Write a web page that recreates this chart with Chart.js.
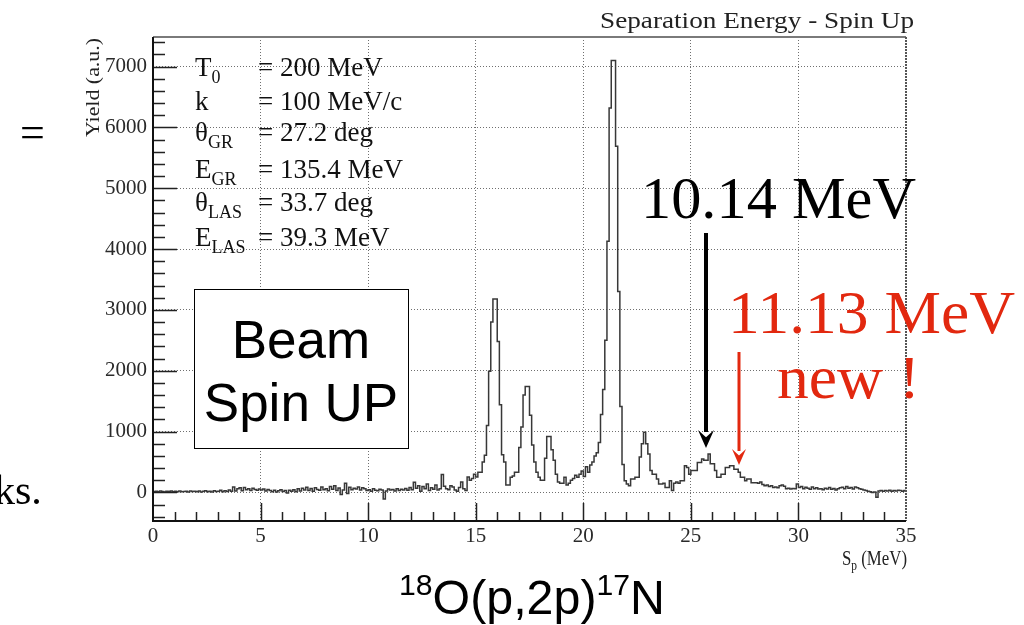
<!DOCTYPE html>
<html>
<head>
<meta charset="utf-8">
<script src="https://cdn.jsdelivr.net/npm/chart.js@4.4.1/dist/chart.umd.min.js"></script>
<style>
  html, body { margin: 0; padding: 0; background: #fff; }
</style>
</head>
<body>
<canvas id="chart" width="1024" height="625"></canvas>
<script>
// Sp histogram, 0.1 MeV bins from 0 to 35 MeV
const binWidth = 0.1;
const yieldCounts = [
  12, 18, 10, 22, 15, 8, 20, 14, 25, 10,
  18, 12, 24, 9, 16, 20, 6, 22, 14, 19,
  11, 25, 8, 17, 28, 12, 20, 5, 26, 15,
  20, 34, 10, 26, 14, 38, 18, 90, 22, 60,
  75, 28, 80, 45, 62, 30, 70, 48, 35, 55,
  40, 58, 22, 46, 30, 12, 35, 8, 28, 42,
  15, 30, -10, 36, 18, 45, 10, 60, 25, 70,
  40, 85, 30, 65, 20, 78, 48, 35, 90, 42,
  60, 28, 95, 50, 110, 30, 72, -35, 40, 150,
  -20, 85, 45, 70, 55, 90, 38, 75, 60, 30,
  45, 20, 62, 35, 28, 50, 40, -110, 25, 55,
  38, 48, 22, 60, 30, 52, 40, 65, 35, 80,
  45, 165, 70, 110, 20, 95, 60, 140, 30, 75,
  50, 120, 40, 60, 295, 100, 60, 45, 110, 90,
  40, 20, 80, 170, 60, 30, 255, 200, 230, 300,
  255, 330, 330, 500, 610, 1100, 1990, 2800, 3180, 3180,
  2480, 1440, 620, 500, 120, 120, 250, 270, 330, 330,
  740, 1075, 1600, 1740, 1740, 1270, 780, 500, 330, 250,
  200, 200, 560, 920, 920, 700, 530, 300, 170, 150,
  150, 250, 120, 150, 200, 230, 280, 250, 300, 350,
  260, 420, 330, 450, 500, 600, 650, 820, 1280, 1690,
  2500, 4130, 6320, 7100, 7100, 5690, 3300, 1410, 460, 190,
  140, 110, 220, 220, 250, 250, 580, 800, 990, 800,
  630, 360, 300, 300, 220, 140, 140, 150, 80, 80,
  190, 30, 150, 170, 150, 190, 190, 440, 410, 300,
  360, 360, 360, 490, 490, 550, 530, 530, 630, 470,
  470, 360, 250, 250, 300, 300, 410, 410, 440, 440,
  380, 380, 330, 250, 250, 190, 220, 220, 160, 160,
  160, 150, 170, 130, 110, 120, 95, 110, 80, 90,
  75, 110, 120, 100, 60, 70, 55, 65, 60, 140,
  80, 95, 60, 85, 70, 50, 90, 60, 75, 55,
  60, 45, 70, 55, 80, 50, 65, 40, 60, 75,
  85, 60, 95, 70, 80, 55, 90, 75, 60, 50,
  40, 30, 20, 10, 0, 5, -80, 25, 30, 20,
  30, 25, 35, 20, 30, 25, 35, 30, 20, 30
];
const xTicks = [0, 5, 10, 15, 20, 25, 30, 35];
const yTicks = [0, 1000, 2000, 3000, 4000, 5000, 6000, 7000];
const xRange = [0, 35];
const yRange = [-470, 7485];
const xMinorStep = 1;
const yMinorStep = 200;

const params = [
  ['T', '0', '= 200 MeV'],
  ['k', '', '= 100 MeV/c'],
  ['θ', 'GR', '= 27.2 deg'],
  ['E', 'GR', '= 135.4 MeV'],
  ['θ', 'LAS', '= 33.7 deg'],
  ['E', 'LAS', '= 39.3 MeV']
];
// arrows: Sp position and tip height (yield)
const knownState = { label: '10.14 MeV', sp: 25.7, tip: 730 };
const newState = { label: '11.13 MeV', sp: 27.26, tip: 450 };

const SERIF = '"Liberation Serif", "DejaVu Serif", serif';
const SANS = '"Liberation Sans", Arial, sans-serif';
const RED = '#e2280f';

const points = yieldCounts.map((v, i) => ({ x: +(i * binWidth).toFixed(2), y: v }));
points.push({ x: xRange[1], y: yieldCounts[yieldCounts.length - 1] });

function drawRich(ctx, segs, x, y, opts = {}) {
  ctx.save();
  let total = 0;
  const widths = segs.map(s => {
    ctx.font = s.font;
    const w = ctx.measureText(s.text).width;
    total += w;
    return w;
  });
  const sx = opts.width ? opts.width / total : 1;
  let start = x;
  if (opts.align === 'right') start = x - total * sx;
  else if (opts.align === 'center') start = x - total * sx / 2;
  ctx.translate(start, y);
  ctx.scale(sx, 1);
  ctx.fillStyle = opts.color || '#000';
  ctx.textAlign = 'left';
  ctx.textBaseline = 'alphabetic';
  let cx = 0;
  segs.forEach((s, i) => {
    ctx.font = s.font;
    ctx.fillText(s.text, cx, s.dy || 0);
    cx += widths[i];
  });
  ctx.restore();
}

function arrow(ctx, x, y0, y1, color, lw, headW, headL) {
  ctx.save();
  ctx.strokeStyle = color;
  ctx.fillStyle = color;
  ctx.lineWidth = lw;
  ctx.beginPath();
  ctx.moveTo(x, y0);
  ctx.lineTo(x, y1 - headL + 2);
  ctx.stroke();
  ctx.beginPath();
  ctx.moveTo(x, y1);
  ctx.lineTo(x - headW / 2, y1 - headL);
  ctx.lineTo(x, y1 - headL * 0.6);
  ctx.lineTo(x + headW / 2, y1 - headL);
  ctx.closePath();
  ctx.fill();
  ctx.restore();
}

const frameAndTicks = {
  id: 'frameAndTicks',
  afterDatasetsDraw(chart) {
    const { ctx, chartArea: a, scales: { x, y } } = chart;
    ctx.save();
    ctx.strokeStyle = '#222';
    ctx.lineWidth = 1.5;
    ctx.beginPath();
    for (let v = -400; v <= 7400; v += yMinorStep) {
      const py = Math.round(y.getPixelForValue(v)) + 0.5;
      const len = v % 1000 === 0 ? 24 : 12;
      ctx.moveTo(a.left, py);
      ctx.lineTo(a.left + len, py);
    }
    for (let v = xRange[0] + xMinorStep; v < xRange[1]; v += xMinorStep) {
      const px = Math.round(x.getPixelForValue(v)) + 0.5;
      const len = v % 5 === 0 ? 18 : 9;
      ctx.moveTo(px, a.bottom);
      ctx.lineTo(px, a.bottom - len);
    }
    ctx.stroke();

    // frame
    ctx.lineWidth = 2;
    ctx.strokeStyle = '#7a7a7a';
    ctx.beginPath();
    ctx.moveTo(a.left, a.top);
    ctx.lineTo(a.right, a.top);
    ctx.stroke();
    ctx.strokeStyle = '#555';
    ctx.setLineDash([2, 1]);
    ctx.beginPath();
    ctx.moveTo(a.right, a.top);
    ctx.lineTo(a.right, a.bottom);
    ctx.stroke();
    ctx.setLineDash([]);
    ctx.strokeStyle = '#111';
    ctx.beginPath();
    ctx.moveTo(a.left, a.top);
    ctx.lineTo(a.left, a.bottom);
    ctx.lineTo(a.right, a.bottom);
    ctx.stroke();
    ctx.restore();
  },
  afterDraw(chart) {
    const { ctx, scales: { x, y } } = chart;

    // title and axis titles (ROOT style)
    drawRich(ctx, [{ text: 'Separation Energy - Spin Up', font: `24px ${SERIF}` }], 600, 28, { width: 314, color: '#222' });
    ctx.save();
    ctx.translate(99, 137);
    ctx.rotate(-Math.PI / 2);
    drawRich(ctx, [{ text: 'Yield (a.u.)', font: `18px ${SERIF}` }], 0, 0, { width: 99, color: '#222' });
    ctx.restore();
    drawRich(ctx, [
      { text: 'S', font: `22px ${SERIF}` },
      { text: 'p', font: `15px ${SERIF}`, dy: 5 },
      { text: ' (MeV)', font: `22px ${SERIF}` }
    ], 907, 565, { width: 65, align: 'right', color: '#222' });

    // run parameters
    const rowY = [76, 110, 141, 178, 211, 246];
    params.forEach((p, i) => {
      drawRich(ctx, [
        { text: p[0], font: `27px ${SERIF}` },
        { text: p[1], font: `18px ${SERIF}`, dy: 7 }
      ], 195, rowY[i], { color: '#111' });
      drawRich(ctx, [{ text: p[2], font: `27px ${SERIF}` }], 258, rowY[i], { color: '#111' });
    });

    // Beam Spin UP box
    ctx.save();
    ctx.fillStyle = '#fff';
    ctx.fillRect(194, 289, 214, 159);
    ctx.strokeStyle = '#000';
    ctx.lineWidth = 1;
    ctx.strokeRect(194.5, 289.5, 214, 159);
    ctx.restore();
    drawRich(ctx, [{ text: 'Beam', font: `53px ${SANS}` }], 301, 358, { align: 'center' });
    drawRich(ctx, [{ text: 'Spin UP', font: `53px ${SANS}` }], 301, 421, { align: 'center' });

    // known / new states
    drawRich(ctx, [{ text: knownState.label, font: `60px ${SERIF}` }], 641, 218, { width: 275 });
    arrow(ctx, Math.round(x.getPixelForValue(knownState.sp)), 233, y.getPixelForValue(knownState.tip), '#000', 4, 16, 18);
    drawRich(ctx, [{ text: newState.label, font: `62px ${SERIF}` }], 728, 333, { width: 287, color: RED });
    drawRich(ctx, [{ text: 'new !', font: `62px ${SERIF}` }], 777, 398, { width: 143, color: RED });
    arrow(ctx, Math.round(x.getPixelForValue(newState.sp)), 352, y.getPixelForValue(newState.tip), RED, 3, 14, 16);

    // reaction
    drawRich(ctx, [
      { text: '18', font: `30px ${SANS}`, dy: -19 },
      { text: 'O(p,2p)', font: `48px ${SANS}` },
      { text: '17', font: `30px ${SANS}`, dy: -19 },
      { text: 'N', font: `48px ${SANS}` }
    ], 399, 614, { width: 266 });

    // slide remnants at the left edge
    drawRich(ctx, [{ text: 'ks.', font: `42px ${SERIF}` }], -6, 504);
    drawRich(ctx, [{ text: '=', font: `44px ${SERIF}` }], 20, 147);
  }
};

new Chart(document.getElementById('chart'), {
  type: 'line',
  data: {
    datasets: [{
      data: points,
      stepped: true,
      borderColor: '#383838',
      borderWidth: 1.5,
      pointRadius: 0,
      fill: false
    }]
  },
  options: {
    responsive: false,
    devicePixelRatio: 1,
    animation: false,
    layout: { padding: { left: 0, right: 118, top: 37, bottom: 0 } },
    plugins: { legend: { display: false }, tooltip: { enabled: false } },
    scales: {
      x: {
        type: 'linear',
        min: xRange[0],
        max: xRange[1],
        afterFit: s => { s.height = 104; },
        afterBuildTicks: s => { s.ticks = xTicks.map(v => ({ value: v })); },
        ticks: { font: { family: SERIF, size: 21 }, color: '#2a2a2a', padding: 3, maxRotation: 0, autoSkip: false, callback: v => String(v) },
        grid: { color: '#6f6f6f', lineWidth: 1, drawTicks: false },
        border: { display: false, dash: [1, 2] }
      },
      y: {
        min: yRange[0],
        max: yRange[1],
        afterFit: s => { s.width = 153; },
        afterBuildTicks: s => { s.ticks = yTicks.map(v => ({ value: v })); },
        ticks: { font: { family: SERIF, size: 21 }, color: '#2a2a2a', padding: 6, callback: v => String(v) },
        grid: { color: '#6f6f6f', lineWidth: 1, drawTicks: false },
        border: { display: false, dash: [1, 2] }
      }
    }
  },
  plugins: [frameAndTicks]
});
</script>
</body>
</html>
